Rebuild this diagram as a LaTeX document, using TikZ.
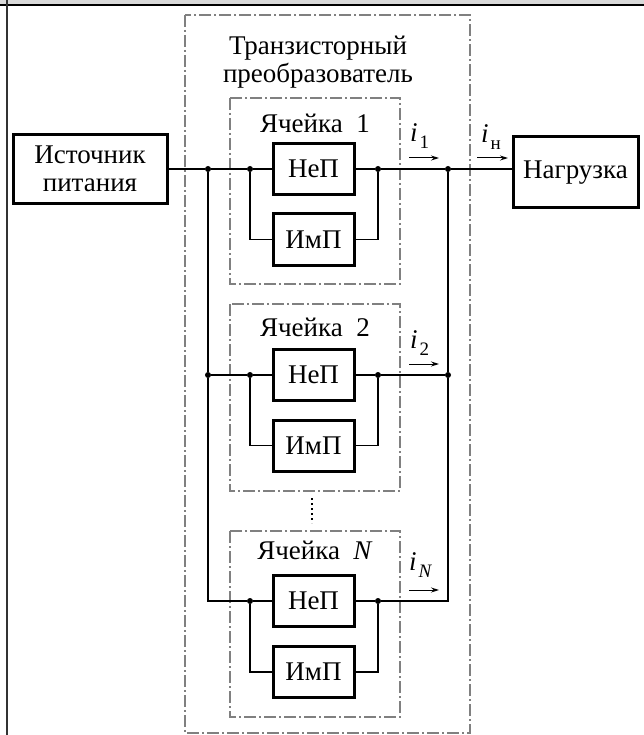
\documentclass[tikz,border=0pt]{standalone}
\usepackage{fontspec}
\setmainfont{Liberation Serif}
\usetikzlibrary{arrows.meta}

\newcommand{\curlab}[1]{\textit{i}\kern2pt\raisebox{-7pt}{\fontsize{19}{19}\selectfont #1}}

\tikzset{
  blk/.style={draw, line width=3pt, fill=white, inner sep=0pt, minimum width=81pt, minimum height=51pt},
  cellframe/.style={draw=black!50, line width=1.8pt, dash pattern=on 12pt off 3pt on 2pt off 3pt},
  wire/.style={line width=1.8pt},
  jn/.style={circle, fill=black, inner sep=0pt, minimum size=6pt},
  cur/.style={-{Stealth[length=8pt,width=5pt]}, line width=1pt},
}

\begin{document}
\begin{tikzpicture}[x=1pt, y=-1pt, font=\fontsize{27}{28}\selectfont]
      \useasboundingbox (0,0) rectangle (644,735);
      \fill[black!15] (0,0) rectangle (644,4.5);
      \draw[line width=1.5pt] (0,5) -- (644,5);
      \draw[line width=2pt, black!80] (6.5,0) -- (6.5,735);

      \draw[cellframe] (185,15) rectangle (470,733);
      \node[align=center] (title) at (318,62) {Транзисторный\\преобразователь};

      \node[draw, line width=3pt, align=center, inner sep=0pt, minimum width=154pt, minimum height=69pt] (src) at (90,169) {Источник\\питания};
      \node[draw, line width=3pt, inner sep=0pt, minimum width=125pt, minimum height=71pt] (load) at (575.5,172.5) {Нагрузка};

      \begin{scope}[yshift=-169pt]
        \draw[cellframe] (230,-71) rectangle (400,115);
        \node[anchor=base] (lab1) at (315,-36) {Ячейка\ \ 1};
        \node[blk] (nep1) at (313.5,0) {НеП};
        \node[blk] (imp1) at (313.5,70.5) {ИмП};
        \node[jn] (a1) at (250,0) {};
        \node[jn] (b1) at (378,0) {};
        \node[anchor=base west, inner sep=0pt] (i1) at (410,-27) {\curlab{1}};
        \coordinate (s1) at (409,-11);
        \coordinate (e1) at (439,-11);
      \end{scope}

      \begin{scope}[yshift=-375pt]
        \draw[cellframe] (230,-71) rectangle (400,116);
        \node[anchor=base] (lab2) at (315,-39) {Ячейка\ \ 2};
        \node[blk] (nep2) at (313.5,0) {НеП};
        \node[blk] (imp2) at (313.5,70.5) {ИмП};
        \node[jn] (a2) at (250,0) {};
        \node[jn] (b2) at (378,0) {};
        \node[anchor=base west, inner sep=0pt] (i2) at (410,-27) {\curlab{2}};
        \coordinate (s2) at (409,-11);
        \coordinate (e2) at (439,-11);
      \end{scope}

      \draw[line width=2.5pt, dash pattern=on 2pt off 3pt] (312,498) -- (312,523);

      \begin{scope}[yshift=-601pt]
        \draw[cellframe] (230,-70) rectangle (400,116);
        \node[anchor=base] (labN) at (315,-42) {Ячейка\ \ \textit{N}};
        \node[blk] (nepN) at (313.5,0) {НеП};
        \node[blk] (impN) at (313.5,71) {ИмП};
        \node[jn] (aN) at (250,0) {};
        \node[jn] (bN) at (378,0) {};
        \node[anchor=base west, inner sep=0pt] (iN) at (409,-31) {\curlab{\textit{N}}};
        \coordinate (sN) at (409,-11);
        \coordinate (eN) at (439,-11);
      \end{scope}

      % buses
      \node[jn] (la) at (208,169) {};
      \node[jn] (lb) at (208,375) {};
      \coordinate (lc) at (208,601);
      \node[jn] (ra) at (448,169) {};
      \node[jn] (rb) at (448,375) {};
      \coordinate (rc) at (448,601);

      \draw[wire] (src) -- (la) -- (a1);
      \draw[wire] (la) -- (lb) -- (lc) -- (aN);
      \draw[wire] (lb) -- (a2);
      \draw[wire] (b1) -- (ra) -- (ra -| load.west);
      \draw[wire] (ra) -- (rb) -- (rc) -- (bN);
      \draw[wire] (b2) -- (rb);

      % cells
      \draw[wire] (a1) -- (nep1) (nep1) -- (b1) (a1) |- (imp1) (imp1) -| (b1);
      \draw[wire] (a2) -- (nep2) (nep2) -- (b2) (a2) |- (imp2) (imp2) -| (b2);
      \draw[wire] (aN) -- (nepN) (nepN) -- (bN) (aN) |- (impN) (impN) -| (bN);

      % currents
      \draw[cur] (s1) -- (e1);
      \draw[cur] (s2) -- (e2);
      \draw[cur] (sN) -- (eN);
      \node[anchor=base west, inner sep=0pt] (iload) at (481,143) {\curlab{н}};
      \coordinate (sl) at (477,158);
      \coordinate (el) at (508,158);
      \draw[cur] (sl) -- (el);
\end{tikzpicture}
\end{document}
